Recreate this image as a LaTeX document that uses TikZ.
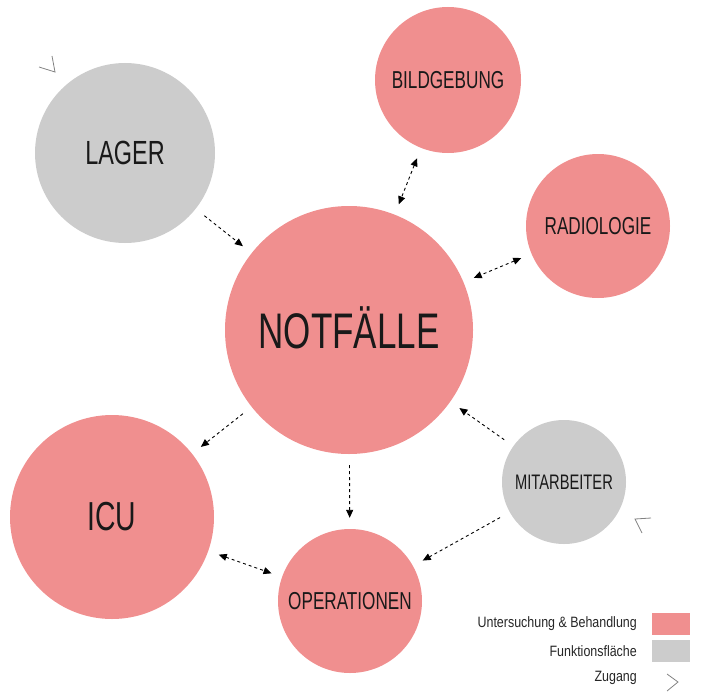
\documentclass[tikz,border=0pt]{standalone}
\usepackage{fontspec}
\setmainfont{Liberation Sans}[FakeStretch=0.7]
\newfontfamily\legfont{Liberation Sans}[FakeStretch=0.83]
\usetikzlibrary{arrows.meta}
\definecolor{rot}{RGB}{240,143,143}
\definecolor{grau}{RGB}{204,204,204}
\definecolor{zug}{RGB}{130,130,130}
\begin{document}
\begin{tikzpicture}[x=1pt,y=-1pt,>={Triangle[length=8pt,width=7pt]},
    raum/.style={circle,inner sep=0pt,minimum size=#1,text=black!90},
    weg/.style={line width=0.9pt,dash pattern=on 3pt off 3pt,shorten <=11pt,shorten >=11pt},
    leg/.style={anchor=east,inner sep=0pt,text=black!85,font=\legfont\fontsize{15}{18}\selectfont}]
  \useasboundingbox (0,0) rectangle (701,693);
  % Raeume
  \node[raum=180pt,fill=grau,font=\fontsize{33.5}{40}\selectfont] (lager) at (125,153) {LAGER};
  \node[raum=146pt,fill=rot,font=\fontsize{24.5}{30}\selectfont] (bild) at (448,80) {BILDGEBUNG};
  \node[raum=144pt,fill=rot,font=\fontsize{24.5}{30}\selectfont] (radio) at (598,226) {RADIOLOGIE};
  \node[raum=248pt,fill=rot,font=\fontsize{50}{60}\selectfont,text height=36pt,text depth=0pt] (notf) at (349,330) {NOTFÄLLE};
  \node[raum=204pt,fill=rot,font=\fontsize{40.5}{48}\selectfont] (icu) at (112,517) {ICU};
  \node[raum=124pt,fill=grau,font=\fontsize{21}{26}\selectfont] (mit) at (564,482) {MITARBEITER};
  \node[raum=144pt,fill=rot,font=\fontsize{24.5}{30}\selectfont] (op) at (350,601) {OPERATIONEN};
  % Wege
  \draw[weg,->] (lager) -- (notf);
  \draw[weg,<->] (bild) -- (notf);
  \draw[weg,<->] (radio) -- (notf);
  \draw[weg,->] (notf) -- (icu);
  \draw[weg,->] (notf) -- (op);
  \draw[weg,<->] (icu) -- (op);
  \draw[weg,->] (mit) -- (op);
  \draw[weg,->] (mit) -- (notf);
  % Zugaenge
  \draw[zug,line width=0.8pt] (39,67)--(55,72)--(52,56);
  \draw[zug,line width=0.8pt] (651,518)--(635,519)--(642,533);
  % Legende
  \node[leg] (l1) at (637,624) {Untersuchung \& Behandlung};
  \node[leg] (l2) at (637,651) {Funktionsfläche};
  \node[leg] (l3) at (637,678) {Zugang};
  \fill[rot] (652,613) rectangle (690,635);
  \fill[grau] (652,640) rectangle (690,662);
  \draw[zug,line width=0.8pt] (667,674)--(678,682)--(667,691);
\end{tikzpicture}
\end{document}
